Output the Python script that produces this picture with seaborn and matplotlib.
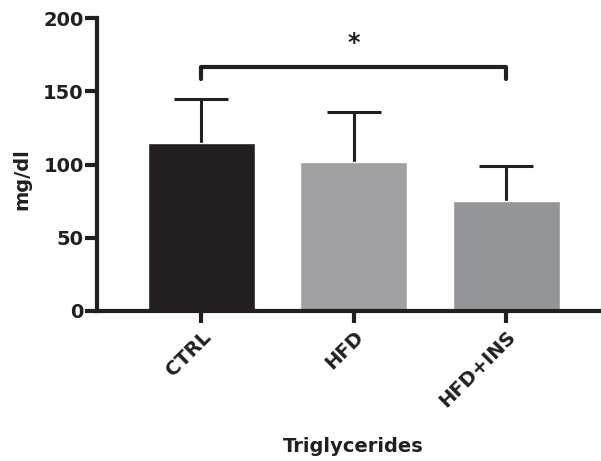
import numpy as np
import matplotlib
matplotlib.use("Agg")
import matplotlib.pyplot as plt
import seaborn as sns

# values (mean and upper SD, mg/dl)
groups = ["CTRL", "HFD", "HFD+INS"]
means = [115, 101.5, 75]
sd = [30, 34.5, 24]
bar_colors = ["#231f20", "#a1a1a4", "#939598"]
y_ticks = [0, 50, 100, 150, 200]
bracket_y = 166.5
bracket_drop = 8

sns.set_style("ticks")
plt.rcParams["font.family"] = ["DejaVu Sans"]
plt.rcParams["font.weight"] = "bold"

fig = plt.figure(figsize=(6.01, 4.61), dpi=100)
ax = fig.add_axes([0.1614, 0.3254, 0.8386, 0.6355])

sns.barplot(x=groups, y=means, hue=groups, palette=bar_colors, legend=False,
            width=0.7, saturation=1, ax=ax, zorder=2)

x = np.arange(len(groups))
top = np.array(means) + np.array(sd)
ax.errorbar(x, means, yerr=[np.zeros(len(x)), sd], fmt="none",
            ecolor="#231f20", elinewidth=2.2, capsize=0, zorder=1)
ax.plot(x, top, ls="none", marker="_", markersize=39, mew=2.2,
        color="#231f20", zorder=3)

# significance bracket CTRL vs HFD+INS
ax.plot([0, 0, 2, 2],
        [bracket_y - bracket_drop, bracket_y, bracket_y, bracket_y - bracket_drop],
        color="#231f20", lw=3, solid_joinstyle="round", clip_on=False)
ax.text(1, bracket_y + 8, "*", ha="center", va="bottom", fontsize=17,
        fontweight="bold", color="#231f20")

ax.set_ylim(0, 200)
ax.set_xlim(-0.684, 2.62)
ax.set_yticks(y_ticks)
ax.set_xticks(x)
ax.set_xticklabels(groups, rotation=45, ha="right", va="top",
                   rotation_mode="anchor")

for side in ["top", "right"]:
    ax.spines[side].set_visible(False)
for side in ["left", "bottom"]:
    ax.spines[side].set_linewidth(3)
    ax.spines[side].set_color("#231f20")
ax.tick_params(axis="both", length=8.5, width=3, color="#231f20",
               labelsize=14, labelcolor="#231f20", pad=1)
ax.tick_params(axis="x", pad=3)
for lab in ax.get_xticklabels() + ax.get_yticklabels():
    lab.set_fontweight("bold")

ax.set_ylabel("mg/dl", fontsize=14, fontweight="bold", color="#231f20")
ax.yaxis.set_label_coords(-0.13, 0.45)
ax.set_xlabel("Triglycerides", fontsize=14, fontweight="bold", color="#231f20")
ax.xaxis.set_label_coords(0.509, -0.43)

fig.savefig("out.png", dpi=100)
